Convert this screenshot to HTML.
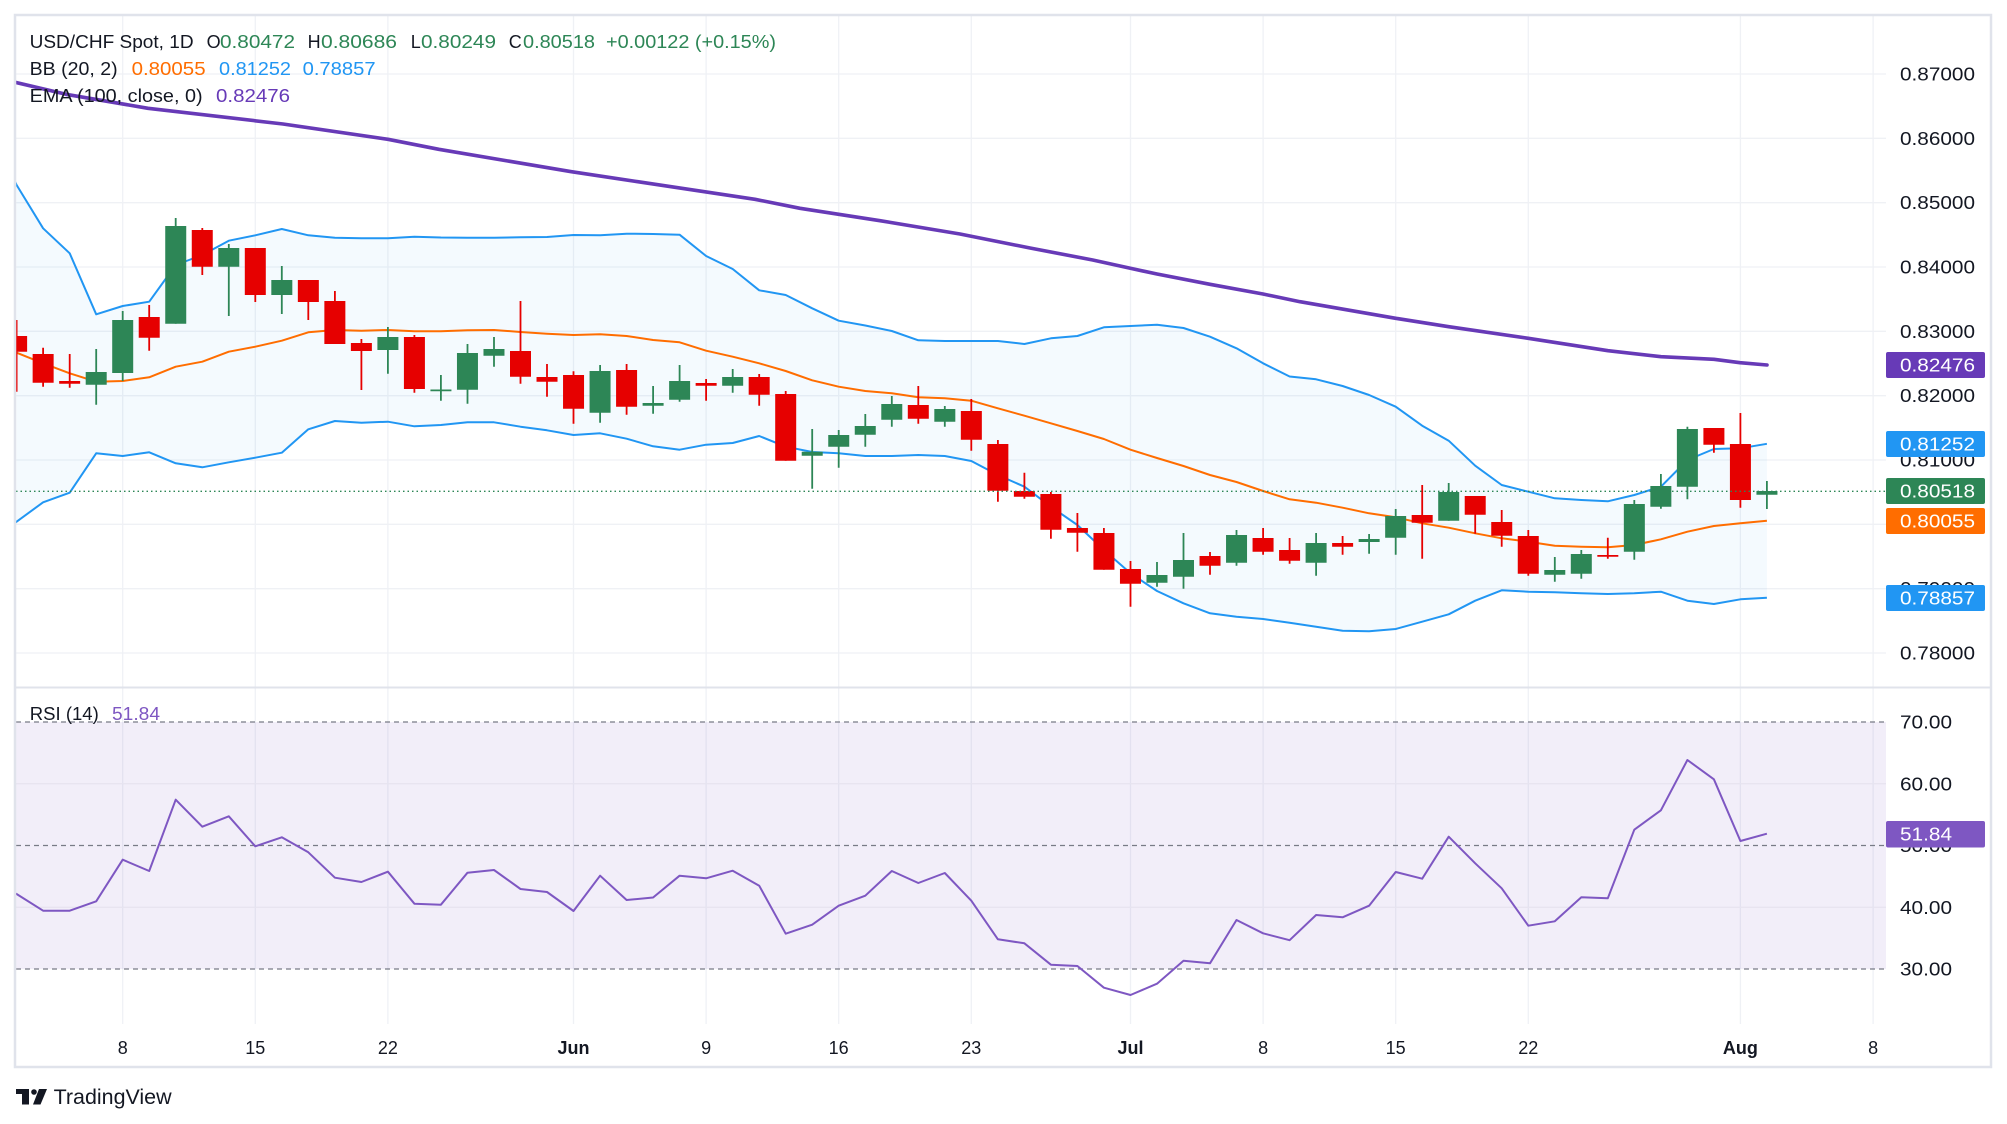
<!DOCTYPE html>
<html><head><meta charset="utf-8"><style>
html,body{margin:0;padding:0;background:#fff;overflow:hidden}
svg{display:block}
text{font-family:"Liberation Sans",sans-serif}
</style></head><body>
<svg width="2007" height="1124" viewBox="0 0 2007 1124" xmlns="http://www.w3.org/2000/svg">
<defs>
<clipPath id="pp"><rect x="16" y="16" width="1870" height="671"/></clipPath>
<clipPath id="rp"><rect x="16" y="688" width="1870" height="336"/></clipPath>
</defs>
<rect width="2007" height="1124" fill="#fff"/>
<!-- vertical grid -->
<g stroke="#eff1f5" stroke-width="1.3">
<path d="M122.7 16V1024M255.3 16V1024M387.9 16V1024M573.5 16V1024M706.1 16V1024M838.7 16V1024M971.3 16V1024M1130.5 16V1024M1263.1 16V1024M1395.7 16V1024M1528.3 16V1024M1740.4 16V1024M1873.1 16V1024"/>
<path d="M16 74H1886M16 138.3H1886M16 202.7H1886M16 267H1886M16 331.3H1886M16 395.7H1886M16 460H1886M16 524.3H1886M16 588.7H1886M16 653H1886"/>
</g>
<!-- price pane -->
<g clip-path="url(#pp)">
<polygon fill="#2196f3" fill-opacity="0.05" points="16.6,185 43.1,228.3 69.7,253.3 96.2,314.3 122.7,306 149.2,301.7 175.7,265 202.3,255 228.8,240.7 255.3,235.3 281.8,229 308.3,235.3 334.9,237.7 361.4,238.3 387.9,238.3 414.4,236.7 440.9,237.5 467.5,237.7 494,237.7 520.5,237.3 547,237 573.5,235 600.1,235.3 626.6,233.7 653.1,234 679.6,234.7 706.1,256 732.7,269 759.2,290.3 785.7,295 812.2,308.3 838.7,320.7 865.3,325.5 891.8,331 918.3,340.3 944.8,341 971.3,341 997.9,341 1024.4,344 1050.9,338.3 1077.4,336 1103.9,327.3 1130.5,326 1157,324.7 1183.5,328 1210,336.7 1236.5,348.3 1263.1,363.3 1289.6,376.5 1316.1,379.3 1342.6,386 1369.1,395 1395.7,406.7 1422.2,425.7 1448.7,440.7 1475.2,465.7 1501.7,485 1528.3,491.7 1554.8,498.3 1581.3,500 1607.8,501.3 1634.3,495 1660.9,486.7 1687.4,460 1713.9,449 1740.4,448.3 1766.9,443.8 1766.9,597.8 1740.4,599.3 1713.9,604 1687.4,600.7 1660.9,591.7 1634.3,593.3 1607.8,594 1581.3,593.3 1554.8,592.3 1528.3,591.7 1501.7,590.3 1475.2,600.7 1448.7,614.3 1422.2,621.7 1395.7,629 1369.1,631.3 1342.6,630.7 1316.1,626.7 1289.6,622.7 1263.1,619 1236.5,616.7 1210,613.3 1183.5,603.3 1157,591 1130.5,573.3 1103.9,550 1077.4,525 1050.9,506.7 1024.4,486.7 997.9,475 971.3,461 944.8,456 918.3,455 891.8,456 865.3,456 838.7,453.3 812.2,452 785.7,446.7 759.2,436 732.7,443 706.1,444.7 679.6,449.7 653.1,446.3 626.6,438.7 600.1,433.3 573.5,435 547,430.3 520.5,426.7 494,422.3 467.5,422.3 440.9,425 414.4,426.3 387.9,421.7 361.4,422.7 334.9,421 308.3,429.3 281.8,452.7 255.3,457.7 228.8,462.3 202.3,467.3 175.7,463.3 149.2,452.3 122.7,456 96.2,453.3 69.7,492.7 43.1,502.3 16.6,521.7"/>
<polyline fill="none" stroke="#2196f3" stroke-width="2" stroke-linejoin="round" points="5,160 16.6,185 43.1,228.3 69.7,253.3 96.2,314.3 122.7,306 149.2,301.7 175.7,265 202.3,255 228.8,240.7 255.3,235.3 281.8,229 308.3,235.3 334.9,237.7 361.4,238.3 387.9,238.3 414.4,236.7 440.9,237.5 467.5,237.7 494,237.7 520.5,237.3 547,237 573.5,235 600.1,235.3 626.6,233.7 653.1,234 679.6,234.7 706.1,256 732.7,269 759.2,290.3 785.7,295 812.2,308.3 838.7,320.7 865.3,325.5 891.8,331 918.3,340.3 944.8,341 971.3,341 997.9,341 1024.4,344 1050.9,338.3 1077.4,336 1103.9,327.3 1130.5,326 1157,324.7 1183.5,328 1210,336.7 1236.5,348.3 1263.1,363.3 1289.6,376.5 1316.1,379.3 1342.6,386 1369.1,395 1395.7,406.7 1422.2,425.7 1448.7,440.7 1475.2,465.7 1501.7,485 1528.3,491.7 1554.8,498.3 1581.3,500 1607.8,501.3 1634.3,495 1660.9,486.7 1687.4,460 1713.9,449 1740.4,448.3 1766.9,443.8"/>
<polyline fill="none" stroke="#2196f3" stroke-width="2" stroke-linejoin="round" points="5,530 16.6,521.7 43.1,502.3 69.7,492.7 96.2,453.3 122.7,456 149.2,452.3 175.7,463.3 202.3,467.3 228.8,462.3 255.3,457.7 281.8,452.7 308.3,429.3 334.9,421 361.4,422.7 387.9,421.7 414.4,426.3 440.9,425 467.5,422.3 494,422.3 520.5,426.7 547,430.3 573.5,435 600.1,433.3 626.6,438.7 653.1,446.3 679.6,449.7 706.1,444.7 732.7,443 759.2,436 785.7,446.7 812.2,452 838.7,453.3 865.3,456 891.8,456 918.3,455 944.8,456 971.3,461 997.9,475 1024.4,486.7 1050.9,506.7 1077.4,525 1103.9,550 1130.5,573.3 1157,591 1183.5,603.3 1210,613.3 1236.5,616.7 1263.1,619 1289.6,622.7 1316.1,626.7 1342.6,630.7 1369.1,631.3 1395.7,629 1422.2,621.7 1448.7,614.3 1475.2,600.7 1501.7,590.3 1528.3,591.7 1554.8,592.3 1581.3,593.3 1607.8,594 1634.3,593.3 1660.9,591.7 1687.4,600.7 1713.9,604 1740.4,599.3 1766.9,597.8"/>
<polyline fill="none" stroke="#ff6d00" stroke-width="2" stroke-linejoin="round" points="5,348 16.6,352.7 43.1,363.3 69.7,373.3 96.2,381.7 122.7,381 149.2,377.3 175.7,366.7 202.3,361.7 228.8,351.7 255.3,346.7 281.8,340.7 308.3,332.3 334.9,330 361.4,330.7 387.9,330 414.4,331.3 440.9,331.3 467.5,330.3 494,330 520.5,332 547,333.7 573.5,335 600.1,334.3 626.6,336 653.1,340 679.6,342.3 706.1,350.7 732.7,356.7 759.2,363.3 785.7,371 812.2,380.3 838.7,386.7 865.3,391 891.8,393.3 918.3,397.3 944.8,398.3 971.3,400.7 997.9,408.3 1024.4,415.7 1050.9,423.3 1077.4,431 1103.9,439 1130.5,449.7 1157,458 1183.5,466 1210,475 1236.5,482 1263.1,491 1289.6,499.3 1316.1,502.7 1342.6,507.7 1369.1,513.3 1395.7,517.3 1422.2,523.3 1448.7,527.7 1475.2,533.3 1501.7,538.3 1528.3,541.7 1554.8,545.7 1581.3,546.7 1607.8,547.3 1634.3,545 1660.9,539.3 1687.4,531.7 1713.9,526 1740.4,523.3 1766.9,520.8"/>
<polyline fill="none" stroke="#673ab7" stroke-width="3.6" stroke-linejoin="round" stroke-linecap="round" points="15.3,82.3 66,94.3 148,108.3 283,124 388,139.3 438.8,149.3 571.4,171.7 637.8,181.7 755,199.3 800,208.3 880,220.7 960,234 1030,248 1092.7,260 1130.3,268.3 1157,274 1210,284.3 1263,294 1300,301.7 1395.7,318.3 1448.7,326.7 1528.3,338.3 1608,350.7 1661,356.7 1714,359.3 1740,362.7 1767,365"/>
<!-- wicks -->
<path stroke="#2d8656" stroke-width="1.8" fill="none" d="M96.2 349V404.7M122.7 311V381M175.7 218V323.7M228.8 244V316M281.8 266V314M387.9 327V373.7M440.9 375V400.7M467.5 344V403.7M494 337V366.7M600.1 365V422.7M653.1 386V413.7M679.6 365V401.7M732.7 369V392.7M812.2 429V488.7M838.7 430V467.7M865.3 414V446.7M891.8 396V426.7M944.8 406V426.7M1157 562V586.7M1183.5 533V588.7M1236.5 530V565.7M1316.1 533V575.7M1369.1 534V553.7M1395.7 509V554.7M1448.7 483V520.7M1554.8 557V581.7M1581.3 550V578.7M1634.3 500V559.7M1660.9 474V508.7M1687.4 426.7V499.3M1766.9 481V509"/>
<path stroke="#e60000" stroke-width="1.8" fill="none" d="M16.6 320V391.7M43.1 347.7V386.7M69.7 354V387.7M149.2 305V350.7M202.3 228V275M255.3 248V302M308.3 280V320M334.9 291V344M361.4 339V390M414.4 335V392.7M520.5 301V383.7M547 364V396.7M573.5 371.3V423.7M626.6 364V414.7M706.1 379V400.7M759.2 374V405.7M785.7 391V460.7M918.3 386V423.7M971.3 399V450.7M997.9 440V501.7M1024.4 472.7V498.7M1050.9 492V538.7M1077.4 513V551.7M1103.9 528V569.7M1130.5 561V606.7M1210 552V574.7M1263.1 528V554.7M1289.6 538V563.7M1342.6 536V554.7M1422.2 485V558.7M1475.2 496V533.7M1501.7 510V546.7M1528.3 530V575.7M1607.8 537.7V558.7M1713.9 428V452.7M1740.4 413V507.7"/>
<!-- bodies -->
<path fill="#2d8656" d="M85.7 372h21V384.7h-21ZM112.2 320h21V373h-21ZM165.24 226h21V323.7h-21ZM218.28 248h21V266.7h-21ZM271.32 280h21V295h-21ZM377.4 337h21V350h-21ZM430.44 389.5h21V391.3h-21ZM456.96 353h21V389.7h-21ZM483.48 349h21V355.7h-21ZM589.56 371h21V412.7h-21ZM642.6 403h21V405.7h-21ZM669.12 381h21V399.7h-21ZM722.16 377h21V385.7h-21ZM801.72 451.7h21V455.7h-21ZM828.24 435h21V446.7h-21ZM854.76 426h21V434.7h-21ZM881.28 404h21V419.7h-21ZM934.32 409h21V421.7h-21ZM1146.48 575h21V582.7h-21ZM1173 560h21V576.7h-21ZM1226.04 535h21V562.7h-21ZM1305.6 543h21V562.7h-21ZM1358.64 539h21V542h-21ZM1385.16 516h21V537.7h-21ZM1438.2 492h21V520.7h-21ZM1544.28 570h21V574.7h-21ZM1570.8 554h21V573.7h-21ZM1623.84 504h21V551.7h-21ZM1650.36 486h21V506.7h-21ZM1676.88 429h21V486.7h-21ZM1756.44 491h21V494.7h-21Z"/>
<path fill="#e60000" d="M6.12 336h21V351.7h-21ZM32.64 354h21V382.7h-21ZM59.16 381h21V383.7h-21ZM138.72 317h21V337.7h-21ZM191.76 230h21V266.7h-21ZM244.8 248h21V295h-21ZM297.84 280h21V302h-21ZM324.36 301h21V344h-21ZM350.88 343h21V351h-21ZM403.92 337h21V389h-21ZM510 351h21V376.7h-21ZM536.52 377h21V381.7h-21ZM563.04 375h21V408.7h-21ZM616.08 370h21V406.7h-21ZM695.64 383h21V385.7h-21ZM748.68 377h21V394.7h-21ZM775.2 394h21V460.7h-21ZM907.8 405h21V418.7h-21ZM960.84 411h21V439.7h-21ZM987.36 444h21V490.7h-21ZM1013.88 491h21V496.7h-21ZM1040.4 494h21V529.7h-21ZM1066.92 528h21V532.7h-21ZM1093.44 533h21V569.7h-21ZM1119.96 569h21V583.7h-21ZM1199.52 556h21V565.7h-21ZM1252.56 538h21V551.7h-21ZM1279.08 550h21V560.7h-21ZM1332.12 543h21V546.7h-21ZM1411.68 515h21V522.7h-21ZM1464.72 496h21V514.7h-21ZM1491.24 522h21V535.7h-21ZM1517.76 536h21V573.7h-21ZM1597.32 555h21V556.8h-21ZM1703.4 428h21V444.7h-21ZM1729.92 444h21V500h-21Z"/>
<line x1="16" y1="491.3" x2="1886" y2="491.3" stroke="#2d8656" stroke-width="1.3" stroke-dasharray="1.5 3"/>
</g>
<!-- RSI pane -->
<g clip-path="url(#rp)">
<rect x="16" y="722" width="1870" height="247" fill="#7e57c2" fill-opacity="0.1"/>
<path d="M16 783.75H1886M16 907.25H1886" stroke="#e6e3ef" stroke-width="1.3"/>
<path d="M16 722H1886M16 845.5H1886M16 969H1886" stroke="#787b86" stroke-width="1.3" stroke-dasharray="5 4"/>
<polyline fill="none" stroke="#7e57c2" stroke-width="2" stroke-linejoin="round" points="5,888 16.6,894 43.1,910.7 69.7,910.7 96.2,901.3 122.7,859.7 149.2,871 175.7,799.7 202.3,826.7 228.8,816.3 255.3,846.3 281.8,837.3 308.3,852.3 334.9,877.7 361.4,882 387.9,871.7 414.4,903.7 440.9,904.7 467.5,872.7 494,870 520.5,889 547,892 573.5,911 600.1,875.7 626.6,900 653.1,897.5 679.6,875.7 706.1,878.3 732.7,870.7 759.2,885.7 785.7,933.7 812.2,924.7 838.7,905.7 865.3,895.7 891.8,871 918.3,883 944.8,873 971.3,900.7 997.9,939.3 1024.4,943.3 1050.9,964.7 1077.4,966 1103.9,987.7 1130.5,995 1157,983.7 1183.5,960.7 1210,963.3 1236.5,920 1263.1,933.3 1289.6,940.2 1316.1,915 1342.6,917.3 1369.1,905.7 1395.7,872 1422.2,878.7 1448.7,836.7 1475.2,863.3 1501.7,888.3 1528.3,925.7 1554.8,921.3 1581.3,897.3 1607.8,898.3 1634.3,829.7 1660.9,810.3 1687.4,760 1713.9,779.3 1740.4,841 1766.9,833.7"/>
</g>
<!-- separators & border -->
<line x1="15" y1="687.5" x2="1991" y2="687.5" stroke="#e0e3eb" stroke-width="2"/>
<rect x="15" y="15" width="1976" height="1052" fill="none" stroke="#e0e3eb" stroke-width="2.5"/>
<!-- legend -->
<g font-size="18" fill="#131722">
<text x="29.6" y="48" textLength="164" lengthAdjust="spacingAndGlyphs">USD/CHF Spot, 1D</text>
<text x="206.6" y="48">O</text><text x="220" y="48" fill="#2d8656" textLength="75" lengthAdjust="spacingAndGlyphs">0.80472</text>
<text x="307.6" y="48">H</text><text x="321" y="48" fill="#2d8656" textLength="76" lengthAdjust="spacingAndGlyphs">0.80686</text>
<text x="410.7" y="48">L</text><text x="421" y="48" fill="#2d8656" textLength="75" lengthAdjust="spacingAndGlyphs">0.80249</text>
<text x="508.7" y="48">C</text><text x="523" y="48" fill="#2d8656" textLength="72" lengthAdjust="spacingAndGlyphs">0.80518</text>
<text x="606" y="48" fill="#2d8656" textLength="170" lengthAdjust="spacingAndGlyphs">+0.00122 (+0.15%)</text>
<text x="29.6" y="75" textLength="88" lengthAdjust="spacingAndGlyphs">BB (20, 2)</text>
<text x="131.6" y="75" fill="#ff6d00" textLength="74" lengthAdjust="spacingAndGlyphs">0.80055</text>
<text x="219" y="75" fill="#2196f3" textLength="72" lengthAdjust="spacingAndGlyphs">0.81252</text>
<text x="302.6" y="75" fill="#2196f3" textLength="73" lengthAdjust="spacingAndGlyphs">0.78857</text>
<text x="29.6" y="102" textLength="173" lengthAdjust="spacingAndGlyphs">EMA (100, close, 0)</text>
<text x="216" y="102" fill="#673ab7" textLength="74" lengthAdjust="spacingAndGlyphs">0.82476</text>
<text x="29.8" y="720" textLength="69" lengthAdjust="spacingAndGlyphs">RSI (14)</text>
<text x="112" y="720" fill="#7e57c2" textLength="48" lengthAdjust="spacingAndGlyphs">51.84</text>
</g>
<!-- price axis -->
<g font-size="18.5" fill="#131722">
<text x="1900" y="80.5" textLength="75" lengthAdjust="spacingAndGlyphs">0.87000</text>
<text x="1900" y="144.8" textLength="75" lengthAdjust="spacingAndGlyphs">0.86000</text>
<text x="1900" y="209.2" textLength="75" lengthAdjust="spacingAndGlyphs">0.85000</text>
<text x="1900" y="273.5" textLength="75" lengthAdjust="spacingAndGlyphs">0.84000</text>
<text x="1900" y="337.8" textLength="75" lengthAdjust="spacingAndGlyphs">0.83000</text>
<text x="1900" y="402.2" textLength="75" lengthAdjust="spacingAndGlyphs">0.82000</text>
<text x="1900" y="466.5" textLength="75" lengthAdjust="spacingAndGlyphs">0.81000</text>
<text x="1900" y="530.8" textLength="75" lengthAdjust="spacingAndGlyphs">0.80000</text>
<text x="1900" y="595.2" textLength="75" lengthAdjust="spacingAndGlyphs">0.79000</text>
<text x="1900" y="659.5" textLength="75" lengthAdjust="spacingAndGlyphs">0.78000</text>
<text x="1900" y="728.5" textLength="52" lengthAdjust="spacingAndGlyphs">70.00</text>
<text x="1900" y="790.3" textLength="52" lengthAdjust="spacingAndGlyphs">60.00</text>
<text x="1900" y="852" textLength="52" lengthAdjust="spacingAndGlyphs">50.00</text>
<text x="1900" y="913.8" textLength="52" lengthAdjust="spacingAndGlyphs">40.00</text>
<text x="1900" y="975.5" textLength="52" lengthAdjust="spacingAndGlyphs">30.00</text>
</g>
<!-- badges -->
<g font-size="18.5" fill="#fff">
<rect x="1886" y="352" width="99" height="26" rx="2" fill="#673ab7"/><text x="1900" y="371.5" textLength="75" lengthAdjust="spacingAndGlyphs">0.82476</text>
<rect x="1886" y="431" width="99" height="26" rx="2" fill="#2196f3"/><text x="1900" y="450.5" textLength="75" lengthAdjust="spacingAndGlyphs">0.81252</text>
<rect x="1886" y="478" width="99" height="26" rx="2" fill="#2d8656"/><text x="1900" y="497.5" textLength="75" lengthAdjust="spacingAndGlyphs">0.80518</text>
<rect x="1886" y="508" width="99" height="26" rx="2" fill="#ff6d00"/><text x="1900" y="527.5" textLength="75" lengthAdjust="spacingAndGlyphs">0.80055</text>
<rect x="1886" y="585" width="99" height="26" rx="2" fill="#2196f3"/><text x="1900" y="604.5" textLength="75" lengthAdjust="spacingAndGlyphs">0.78857</text>
<rect x="1886" y="821" width="99" height="26.5" rx="2" fill="#7e57c2"/><text x="1900" y="840.6" textLength="52" lengthAdjust="spacingAndGlyphs">51.84</text>
</g>
<!-- time axis -->
<g font-size="18" fill="#131722" text-anchor="middle">
<text x="122.7" y="1054">8</text>
<text x="255.3" y="1054">15</text>
<text x="387.9" y="1054">22</text>
<text x="573.5" y="1054" font-weight="bold">Jun</text>
<text x="706.1" y="1054">9</text>
<text x="838.7" y="1054">16</text>
<text x="971.3" y="1054">23</text>
<text x="1130.5" y="1054" font-weight="bold">Jul</text>
<text x="1263.1" y="1054">8</text>
<text x="1395.7" y="1054">15</text>
<text x="1528.3" y="1054">22</text>
<text x="1740.4" y="1054" font-weight="bold">Aug</text>
<text x="1873.1" y="1054">8</text>
</g>
<!-- TradingView logo -->
<g fill="#131722">
<rect x="16" y="1089" width="13" height="5"/>
<rect x="22" y="1089" width="7" height="15.5"/>
<circle cx="34" cy="1092" r="2.8"/>
<polygon points="39,1089 47,1089 40.5,1104.5 33,1104.5"/>
<text x="53.6" y="1104" font-size="21" textLength="118" lengthAdjust="spacingAndGlyphs">TradingView</text>
</g>
</svg>
</body></html>
